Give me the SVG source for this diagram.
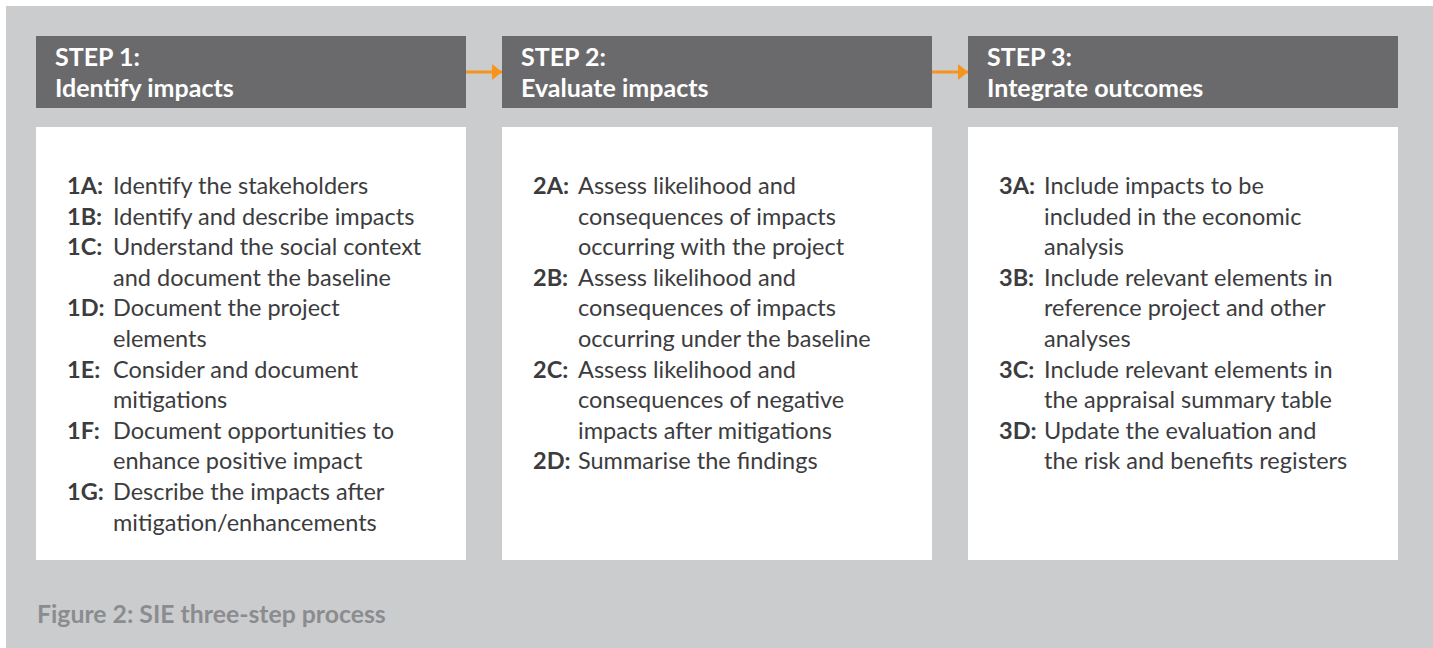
<svg xmlns="http://www.w3.org/2000/svg" width="1433" height="648" viewBox="0 0 1433 648">
<defs>
<style>
.hdr{fill:#6a6a6c}
.card{fill:#ffffff}
.ht{font-family:Lato,"Open Sans","Liberation Sans",sans-serif;font-weight:700;font-size:25px;fill:#ffffff}
.lb{font-family:Lato,"Open Sans","Liberation Sans",sans-serif;font-weight:700;font-size:23.5px;fill:#3c3c3e}
.tx{font-family:Lato,"Open Sans","Liberation Sans",sans-serif;font-weight:400;font-size:23.5px;fill:#3c3c3e}
.cap{font-family:Lato,"Open Sans","Liberation Sans",sans-serif;font-weight:700;font-size:24.8px;fill:#8b8c8f}
.conn{stroke:#f7941d;stroke-width:3;fill:none}
</style>
<marker id="ah" viewBox="0 0 10 16" refX="10" refY="8" markerWidth="10" markerHeight="16" markerUnits="userSpaceOnUse" orient="auto">
<path d="M0,0 L10,8 L0,16 Z" fill="#f7941d"/>
</marker>
</defs>
<rect x="0" y="0" width="1433" height="648" fill="#ffffff"/>
<rect x="6" y="6" width="1427" height="642" fill="#cbccce"/>

<g id="step1">
<rect class="hdr" x="36" y="36" width="430" height="72"/>
<text class="ht" x="55" y="66">STEP 1:</text>
<text class="ht" x="55" y="97">Identify impacts</text>
<rect class="card" x="36" y="127" width="430" height="433"/>
<text class="lb" x="67" y="194">1A:</text><text class="tx" x="113" y="194">Identify the stakeholders</text>
<text class="lb" x="67" y="224.6">1B:</text><text class="tx" x="113" y="224.6">Identify and describe impacts</text>
<text class="lb" x="67" y="255.2">1C:</text><text class="tx" x="113" y="255.2">Understand the social context</text>
<text class="tx" x="113" y="285.8">and document the baseline</text>
<text class="lb" x="67" y="316.4">1D:</text><text class="tx" x="113" y="316.4">Document the project</text>
<text class="tx" x="113" y="347">elements</text>
<text class="lb" x="67" y="377.6">1E:</text><text class="tx" x="113" y="377.6">Consider and document</text>
<text class="tx" x="113" y="408.2">mitigations</text>
<text class="lb" x="67" y="438.8">1F:</text><text class="tx" x="113" y="438.8">Document opportunities to</text>
<text class="tx" x="113" y="469.4">enhance positive impact</text>
<text class="lb" x="67" y="500">1G:</text><text class="tx" x="113" y="500">Describe the impacts after</text>
<text class="tx" x="113" y="530.6">mitigation/enhancements</text>
</g>

<g id="step2">
<rect class="hdr" x="502" y="36" width="430" height="72"/>
<text class="ht" x="521" y="66">STEP 2:</text>
<text class="ht" x="521" y="97">Evaluate impacts</text>
<rect class="card" x="502" y="127" width="430" height="433"/>
<text class="lb" x="533" y="194">2A:</text><text class="tx" x="578" y="194">Assess likelihood and</text>
<text class="tx" x="578" y="224.6">consequences of impacts</text>
<text class="tx" x="578" y="255.2">occurring with the project</text>
<text class="lb" x="533" y="285.8">2B:</text><text class="tx" x="578" y="285.8">Assess likelihood and</text>
<text class="tx" x="578" y="316.4">consequences of impacts</text>
<text class="tx" x="578" y="347">occurring under the baseline</text>
<text class="lb" x="533" y="377.6">2C:</text><text class="tx" x="578" y="377.6">Assess likelihood and</text>
<text class="tx" x="578" y="408.2">consequences of negative</text>
<text class="tx" x="578" y="438.8">impacts after mitigations</text>
<text class="lb" x="533" y="469.4">2D:</text><text class="tx" x="578" y="469.4">Summarise the findings</text>
</g>

<g id="step3">
<rect class="hdr" x="968" y="36" width="430" height="72"/>
<text class="ht" x="987" y="66">STEP 3:</text>
<text class="ht" x="987" y="97">Integrate outcomes</text>
<rect class="card" x="968" y="127" width="430" height="433"/>
<text class="lb" x="999" y="194">3A:</text><text class="tx" x="1044" y="194">Include impacts to be</text>
<text class="tx" x="1044" y="224.6">included in the economic</text>
<text class="tx" x="1044" y="255.2">analysis</text>
<text class="lb" x="999" y="285.8">3B:</text><text class="tx" x="1044" y="285.8">Include relevant elements in</text>
<text class="tx" x="1044" y="316.4">reference project and other</text>
<text class="tx" x="1044" y="347">analyses</text>
<text class="lb" x="999" y="377.6">3C:</text><text class="tx" x="1044" y="377.6">Include relevant elements in</text>
<text class="tx" x="1044" y="408.2">the appraisal summary table</text>
<text class="lb" x="999" y="438.8">3D:</text><text class="tx" x="1044" y="438.8">Update the evaluation and</text>
<text class="tx" x="1044" y="469.4">the risk and benefits registers</text>
</g>

<g id="connectors">
<line class="conn" x1="466" y1="72" x2="502" y2="72" marker-end="url(#ah)"/>
<line class="conn" x1="932" y1="72" x2="968" y2="72" marker-end="url(#ah)"/>
</g>

<text class="cap" x="37" y="623">Figure 2: SIE three-step process</text>
</svg>
